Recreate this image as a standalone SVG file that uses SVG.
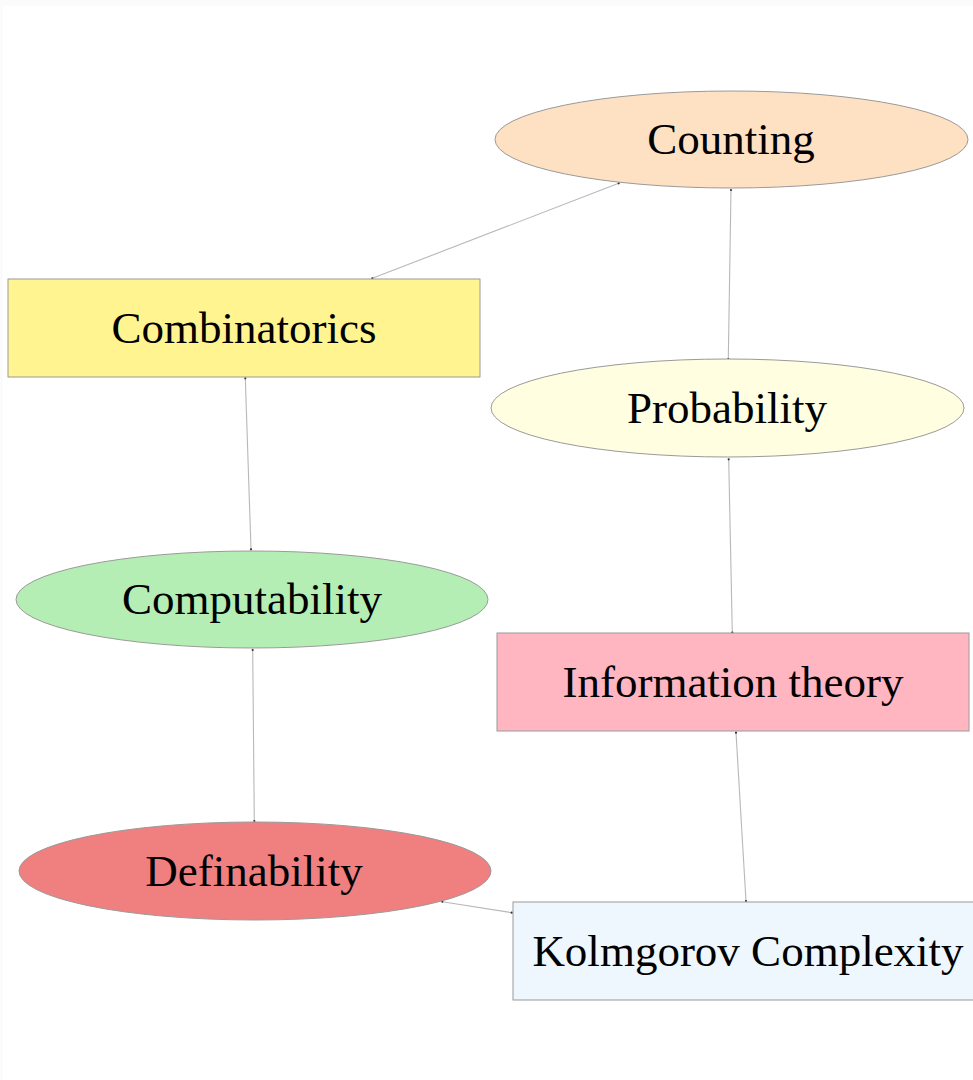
<svg xmlns="http://www.w3.org/2000/svg" width="973" height="1080" viewBox="0 0 973 1080">
  <style>
    .node { stroke: #9a9a9a; stroke-width: 1; }
    .label { font-family: "Liberation Serif", "Times New Roman", serif; font-size: 45px; fill: #000; text-anchor: middle; }
    .edge { stroke: #b8b8b8; stroke-width: 1.1; fill: none; }
    .end { fill: #333; }
  </style>
  <rect x="0" y="0" width="973" height="1080" fill="#ffffff"/>
  <!-- faint page frame -->
  <rect x="0" y="0" width="973" height="6" fill="#fbfbfb"/>
  <rect x="0" y="0" width="3" height="1080" fill="#fbfbfb"/>

  <g id="connectors">
    <line class="edge" x1="618.7" y1="183.3" x2="372.3" y2="278.3"/>
    <line class="edge" x1="731" y1="190" x2="728.3" y2="359"/>
    <line class="edge" x1="245.3" y1="378.3" x2="251" y2="549.3"/>
    <line class="edge" x1="728.7" y1="459.3" x2="732.3" y2="632.7"/>
    <line class="edge" x1="252.7" y1="650" x2="254.3" y2="821"/>
    <line class="edge" x1="736" y1="732.7" x2="746" y2="901"/>
    <line class="edge" x1="442.3" y1="901.7" x2="511.7" y2="912.7"/>
    <circle class="end" cx="618.7" cy="183.3" r="1.1"/>
    <circle class="end" cx="372.3" cy="278.3" r="1.1"/>
    <circle class="end" cx="731" cy="190" r="1.1"/>
    <circle class="end" cx="728.3" cy="359" r="1.1"/>
    <circle class="end" cx="245.3" cy="378.3" r="1.1"/>
    <circle class="end" cx="251" cy="549.3" r="1.1"/>
    <circle class="end" cx="728.7" cy="459.3" r="1.1"/>
    <circle class="end" cx="732.3" cy="632.7" r="1.1"/>
    <circle class="end" cx="252.7" cy="650" r="1.1"/>
    <circle class="end" cx="254.3" cy="821" r="1.1"/>
    <circle class="end" cx="736" cy="732.7" r="1.1"/>
    <circle class="end" cx="746" cy="901" r="1.1"/>
    <circle class="end" cx="442.3" cy="901.7" r="1.1"/>
    <circle class="end" cx="511.7" cy="912.7" r="1.1"/>
  </g>

  <g id="counting">
    <ellipse class="node" cx="731.5" cy="139.5" rx="236.5" ry="48.5" fill="#fde1c2"/>
    <text class="label" x="731" y="154">Counting</text>
  </g>
  <g id="combinatorics">
    <rect class="node" x="8" y="279" width="472" height="98" fill="#fff48f"/>
    <text class="label" x="244" y="343">Combinatorics</text>
  </g>
  <g id="probability">
    <ellipse class="node" cx="727.5" cy="408" rx="236.5" ry="49" fill="#fffee0"/>
    <text class="label" x="727" y="423">Probability</text>
  </g>
  <g id="computability">
    <ellipse class="node" cx="252" cy="599.5" rx="236" ry="48.5" fill="#b4eeb4"/>
    <text class="label" x="252" y="614">Computability</text>
  </g>
  <g id="information-theory">
    <rect class="node" x="497" y="633" width="472" height="98" fill="#ffb6c1"/>
    <text class="label" x="733" y="697">Information theory</text>
  </g>
  <g id="definability">
    <ellipse class="node" cx="255" cy="871" rx="236" ry="49" fill="#f08080"/>
    <text class="label" x="254" y="886">Definability</text>
  </g>
  <g id="kolmgorov-complexity">
    <rect class="node" x="513" y="902" width="472" height="98" fill="#eef6fe"/>
    <text class="label" x="748" y="966">Kolmgorov Complexity</text>
  </g>
</svg>
